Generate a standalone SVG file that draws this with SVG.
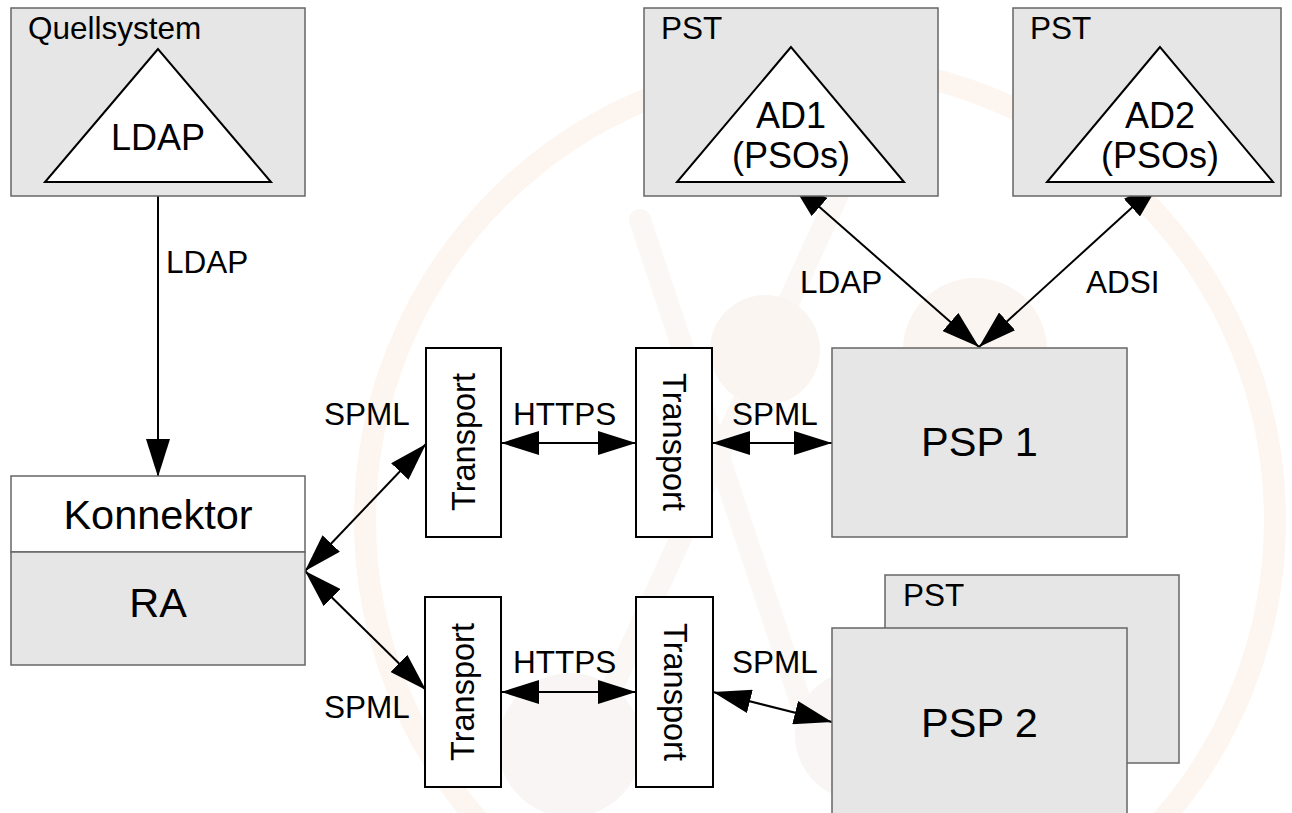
<svg xmlns="http://www.w3.org/2000/svg" width="1292" height="813" viewBox="0 0 1292 813">
<defs>
<style>
.grey{fill:#e6e6e6;stroke:#666;stroke-width:1.5}
.white{fill:#fff;stroke:#666;stroke-width:1.5}
.tri{fill:#fff;stroke:#000;stroke-width:2}
.tbox{fill:#fff;stroke:#000;stroke-width:2}
.edge{fill:none;stroke:#000;stroke-width:2}
text{font-family:"Liberation Sans",Arial,sans-serif;fill:#000}
.lbl{font-size:31.5px}
.tr{font-size:32.5px}
.big{font-size:41.5px}
.mid{font-size:36px}
.title{font-size:31.5px}
.wm{fill:none;stroke-linecap:round}
</style>
<marker id="ah" viewBox="0 0 38 24" refX="38" refY="12" markerWidth="38" markerHeight="24" markerUnits="userSpaceOnUse" orient="auto-start-reverse">
<path d="M0,0 L38,12 L0,24 Z" fill="#000"/>
</marker>
</defs>
<rect width="1292" height="813" fill="#fff"/>
<g id="watermark">
<circle cx="820" cy="520" r="455" class="wm" stroke="#fdf5ef" stroke-width="22"/>
<line x1="840" y1="190" x2="570" y2="780" class="wm" stroke="#faf7f5" stroke-width="22"/>
<line x1="640" y1="220" x2="800" y2="700" class="wm" stroke="#faf7f5" stroke-width="22"/>
<circle cx="765" cy="350" r="55" fill="#fbf5f1"/>
<circle cx="975" cy="350" r="72" fill="#fbf5f1"/>
<circle cx="570" cy="745" r="72" fill="#f8f5f4"/>
<circle cx="860" cy="735" r="65" fill="#f8f5f4"/>
</g>
<g id="connectors">
<line class="edge" x1="158" y1="182" x2="158" y2="477" marker-end="url(#ah)"/>
<text class="lbl" x="166" y="273">LDAP</text>
<line class="edge" x1="791" y1="182" x2="979" y2="347" marker-start="url(#ah)" marker-end="url(#ah)"/>
<text class="lbl" x="800" y="293">LDAP</text>
<line class="edge" x1="1160" y1="182" x2="979" y2="347" marker-start="url(#ah)" marker-end="url(#ah)"/>
<text class="lbl" x="1086" y="293">ADSI</text>
<line class="edge" x1="305" y1="571" x2="426" y2="444" marker-start="url(#ah)" marker-end="url(#ah)"/>
<text class="lbl" x="324" y="425">SPML</text>
<line class="edge" x1="305" y1="571" x2="426" y2="690" marker-start="url(#ah)" marker-end="url(#ah)"/>
<text class="lbl" x="324" y="718">SPML</text>
<line class="edge" x1="501" y1="443" x2="636" y2="443" marker-start="url(#ah)" marker-end="url(#ah)"/>
<text class="lbl" x="513" y="425">HTTPS</text>
<line class="edge" x1="712" y1="443" x2="832" y2="443" marker-start="url(#ah)" marker-end="url(#ah)"/>
<text class="lbl" x="732" y="425">SPML</text>
<line class="edge" x1="501" y1="692" x2="636" y2="692" marker-start="url(#ah)" marker-end="url(#ah)"/>
<text class="lbl" x="513" y="673">HTTPS</text>
<line class="edge" x1="713" y1="692" x2="832" y2="722" marker-start="url(#ah)" marker-end="url(#ah)"/>
<text class="lbl" x="732" y="673">SPML</text>
</g>
<g id="quellsystem">
<rect class="grey" x="11" y="8" width="294" height="188"/>
<text class="title" x="28" y="39">Quellsystem</text>
<polygon class="tri" points="158,49 45,182 271,182"/>
<text class="mid" x="158" y="150" text-anchor="middle">LDAP</text>
</g>
<g id="pst-ad1">
<rect class="grey" x="644" y="8" width="294" height="188"/>
<text class="title" x="661" y="39">PST</text>
<polygon class="tri" points="791,47 677,182 904,182"/>
<text class="mid" x="791" y="128" text-anchor="middle">AD1</text>
<text class="mid" x="791" y="168" text-anchor="middle">(PSOs)</text>
</g>
<g id="pst-ad2">
<rect class="grey" x="1013" y="8" width="268" height="188"/>
<text class="title" x="1030" y="39">PST</text>
<polygon class="tri" points="1160,47 1047,182 1273,182"/>
<text class="mid" x="1160" y="128" text-anchor="middle">AD2</text>
<text class="mid" x="1160" y="168" text-anchor="middle">(PSOs)</text>
</g>
<g id="konnektor">
<rect class="white" x="11" y="476" width="294" height="76"/>
<rect class="grey" x="11" y="552" width="294" height="113"/>
<text class="big" x="158" y="529" text-anchor="middle">Konnektor</text>
<text class="big" x="158" y="617" text-anchor="middle">RA</text>
</g>
<g id="transport-1a">
<rect class="tbox" x="426" y="348" width="75" height="189"/>
<text class="tr" transform="translate(463.5,442) rotate(-90)" x="0" y="11" text-anchor="middle">Transport</text>
</g>
<g id="transport-1b">
<rect class="tbox" x="636" y="348" width="76" height="189"/>
<text class="tr" transform="translate(674,442) rotate(90)" x="0" y="11" text-anchor="middle">Transport</text>
</g>
<g id="transport-2a">
<rect class="tbox" x="425" y="597" width="76" height="190"/>
<text class="tr" transform="translate(463,692) rotate(-90)" x="0" y="11" text-anchor="middle">Transport</text>
</g>
<g id="transport-2b">
<rect class="tbox" x="636" y="597" width="77" height="190"/>
<text class="tr" transform="translate(674.5,692) rotate(90)" x="0" y="11" text-anchor="middle">Transport</text>
</g>
<g id="psp1">
<rect class="grey" x="832" y="348" width="295" height="189"/>
<text class="big" x="979.5" y="456" text-anchor="middle">PSP 1</text>
</g>
<g id="psp2">
<rect class="grey" x="885" y="575" width="294" height="188"/>
<text class="title" x="903" y="606">PST</text>
<rect class="grey" x="832" y="628" width="295" height="195"/>
<text class="big" x="979.5" y="737" text-anchor="middle">PSP 2</text>
</g>
</svg>
